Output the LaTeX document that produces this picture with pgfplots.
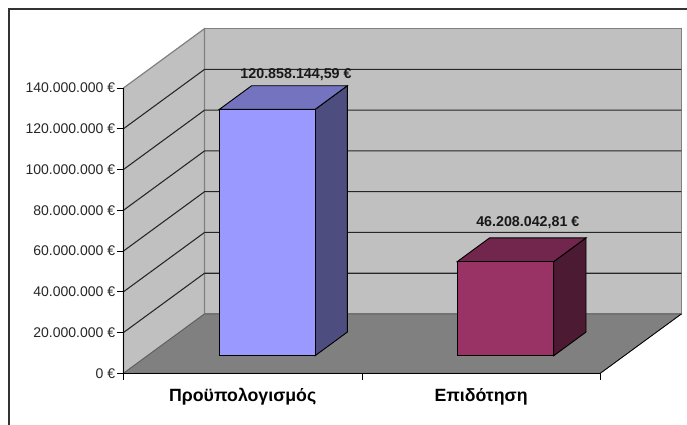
\documentclass[border=0pt]{standalone}
\usepackage{fontspec}
\setmainfont{Liberation Sans}
\usepackage{pgfplots}
\pgfplotsset{compat=1.18}
\definecolor{wall}{HTML}{C0C0C0}
\definecolor{floorc}{HTML}{808080}
\definecolor{edgec}{HTML}{808080}
\definecolor{gridc}{HTML}{262626}
\definecolor{blueF}{HTML}{9999FF}
\definecolor{blueT}{HTML}{7373BF}
\definecolor{blueS}{HTML}{4D4D80}
\definecolor{plumF}{HTML}{993366}
\definecolor{plumT}{HTML}{73264D}
\definecolor{plumS}{HTML}{4D1A33}
\newcommand{\lbl}{\fontsize{10.5}{12}\selectfont}
\newcommand{\catlbl}{\fontsize{13.3}{15}\selectfont}
\begin{document}
\begin{tikzpicture}[x=0.75pt,y=0.75pt]
\path[use as bounding box] (0,0) rectangle (687,425);
\draw[color=black!80,line width=1.3pt] (9,0) -- (9,416) -- (687,416);
\begin{axis}[
  at={(92.63pt,38.78pt)}, anchor=south west,
  scale only axis, width=357.6pt, height=214pt,
  xmin=0, xmax=2, ymin=0, ymax=140000000,
  clip=false, axis on top,
  axis x line=bottom, axis y line=left,
  axis line style={-,black,line width=0.8pt},
  tick style={black,line width=0.6pt},
  tick align=outside, major tick length=4.9pt,
  scaled y ticks=false,
  ytick={0,20000000,40000000,60000000,80000000,100000000,120000000,140000000},
  yticklabels={0 €,20.000.000 €,40.000.000 €,60.000.000 €,80.000.000 €,100.000.000 €,120.000.000 €,140.000.000 €},
  yticklabel style={font=\lbl,inner sep=0pt,xshift=-1.2pt,text=black!85},
  xtick={0,1,2}, xticklabels={},
  extra x ticks={0.5,1.5},
  extra x tick labels={\textbf{Προϋπολογισμός},\textbf{Επιδότηση}},
  extra x tick style={major tick length=0pt,
    xticklabel style={font=\catlbl,inner sep=0pt,text height=10pt,text depth=3pt,yshift=-11.2pt,text=black}},
]
% back wall, side wall and floor of the chart box
\addplot[fill=wall,draw=edgec,line width=0.9pt] coordinates {(0.3398,29100000)(2.3398,29100000)(2.3398,169100000)(0.3398,169100000)} --cycle;
\addplot[fill=wall,draw=edgec,line width=0.9pt] coordinates {(0,0)(0,140000000)(0.3398,169100000)(0.3398,29100000)} --cycle;
\addplot[fill=floorc,draw=floorc!70!black,line width=0.5pt] coordinates {(0,0)(2,0)(2.3398,29100000)(0.3398,29100000)} --cycle;
\addplot[draw=black,line width=0.6pt] coordinates {(2,0)(2.3398,29100000)};
% horizontal gridlines running along the side wall and the back wall
\addplot[gridc,line width=0.8pt] coordinates {(0,20000000)(0.3398,49100000)(2.3398,49100000)};
\addplot[gridc,line width=0.8pt] coordinates {(0,40000000)(0.3398,69100000)(2.3398,69100000)};
\addplot[gridc,line width=0.8pt] coordinates {(0,60000000)(0.3398,89100000)(2.3398,89100000)};
\addplot[gridc,line width=0.8pt] coordinates {(0,80000000)(0.3398,109100000)(2.3398,109100000)};
\addplot[gridc,line width=0.8pt] coordinates {(0,100000000)(0.3398,129100000)(2.3398,129100000)};
\addplot[gridc,line width=0.8pt] coordinates {(0,120000000)(0.3398,149100000)(2.3398,149100000)};
% Προϋπολογισμός: base 8.600.000, height 120.858.144,59
\addplot[fill=blueS,draw=black,line width=0.7pt] coordinates {(0.8033,8600000)(0.9388,20230000)(0.9388,141088144.59)(0.8033,129458144.59)} --cycle;
\addplot[fill=blueT,draw=black,line width=0.7pt] coordinates {(0.4018,129458144.59)(0.8033,129458144.59)(0.9388,141088144.59)(0.5373,141088144.59)} --cycle;
\addplot[fill=blueF,draw=black,line width=0.7pt] coordinates {(0.4018,8600000)(0.8033,8600000)(0.8033,129458144.59)(0.4018,129458144.59)} --cycle;
% Επιδότηση: base 8.600.000, height 46.208.042,81
\addplot[fill=plumS,draw=black,line width=0.7pt] coordinates {(1.8045,8600000)(1.9400,20230000)(1.9400,66438042.81)(1.8045,54808042.81)} --cycle;
\addplot[fill=plumT,draw=black,line width=0.7pt] coordinates {(1.4002,54808042.81)(1.8045,54808042.81)(1.9400,66438042.81)(1.5357,66438042.81)} --cycle;
\addplot[fill=plumF,draw=black,line width=0.7pt] coordinates {(1.4002,8600000)(1.8045,8600000)(1.8045,54808042.81)(1.4002,54808042.81)} --cycle;
% value labels above the bars
\node[font=\fontsize{10.7}{12}\selectfont\bfseries,text=black!90] at (axis cs:0.7236,146700000) {120.858.144,59 €};
\node[font=\fontsize{10.7}{12}\selectfont\bfseries,text=black!90] at (axis cs:1.696,74100000) {46.208.042,81 €};
\end{axis}
\end{tikzpicture}
\end{document}
